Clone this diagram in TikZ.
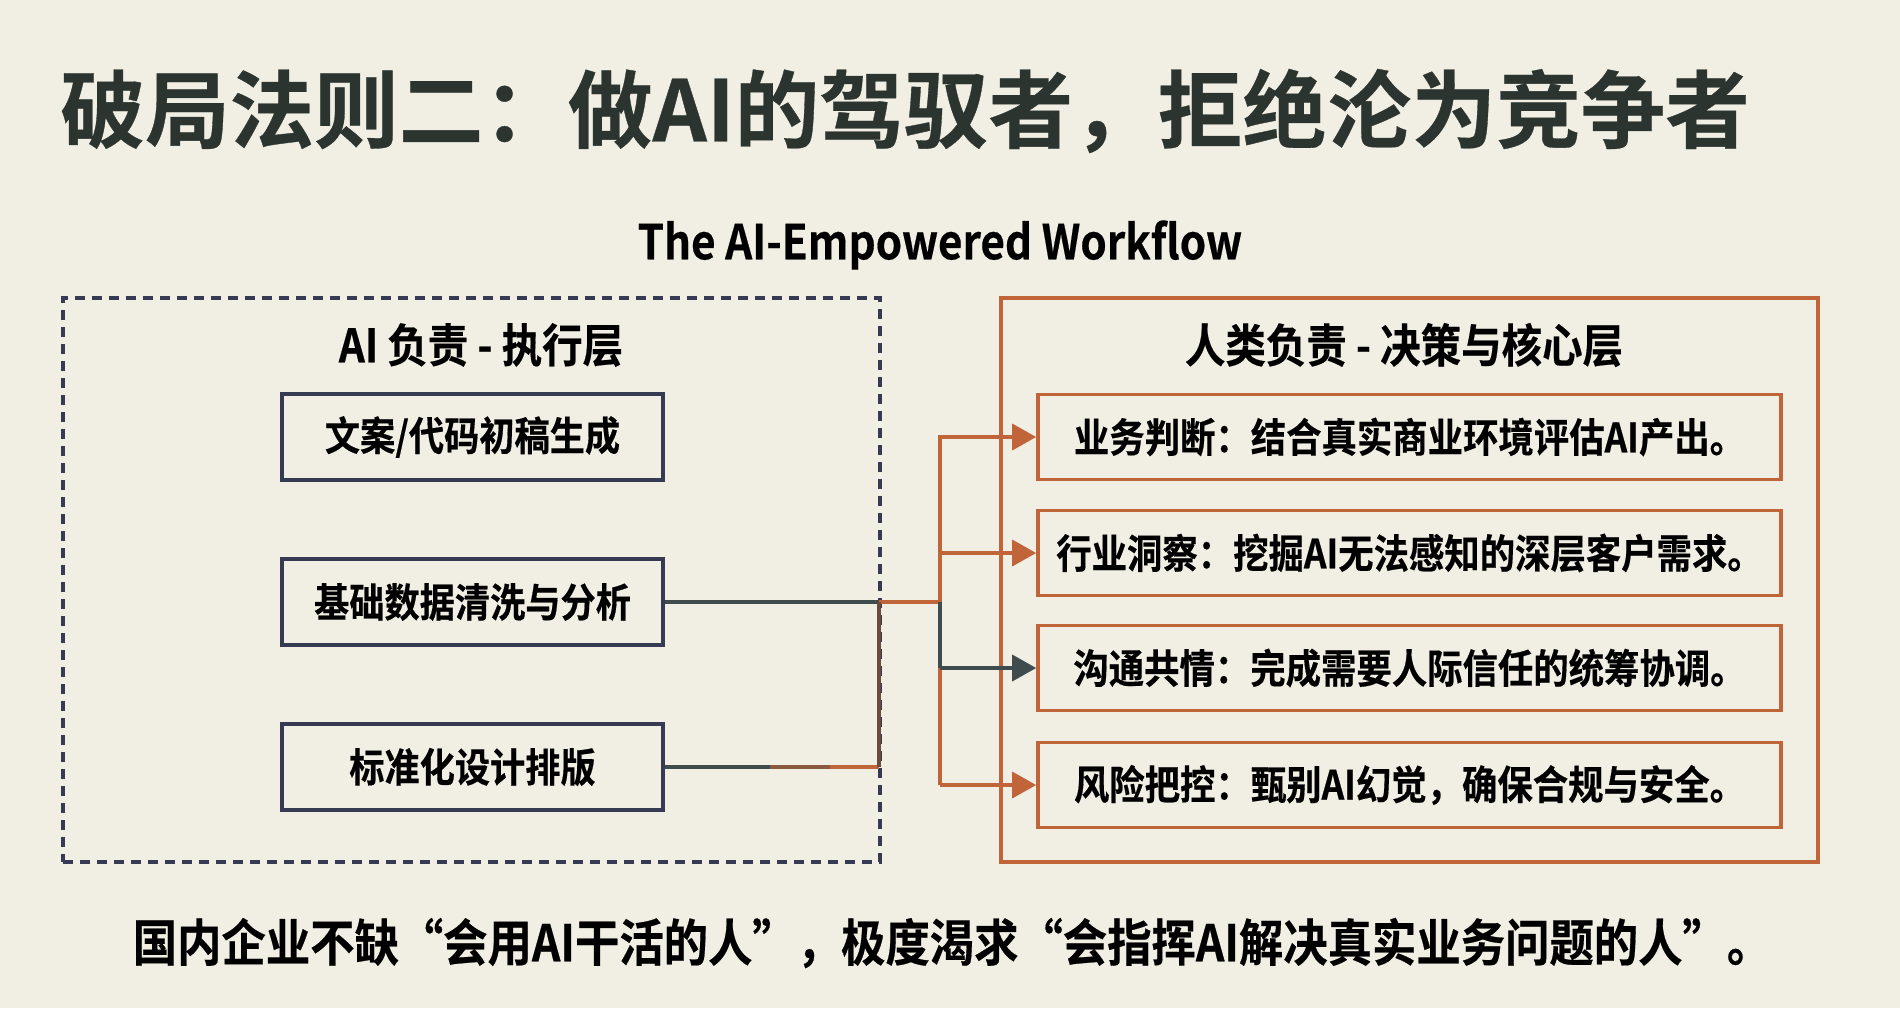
\documentclass[tikz,border=0pt]{standalone}
\usepackage{fontspec}
\usetikzlibrary{arrows.meta}
\newfontfamily\hb{Noto Sans CJK SC Bold}[FakeBold=0.4]
\newfontfamily\hbc{Noto Sans CJK SC Bold}[FakeStretch=0.88,FakeBold=0.4]
\definecolor{bg}{HTML}{F1EFE4}
\definecolor{ttl}{HTML}{2C3430}
\definecolor{navy}{HTML}{363A52}
\definecolor{rust}{HTML}{C0653A}
\definecolor{slate}{HTML}{3E4C4D}
\definecolor{brn}{HTML}{6A4A3A}
\definecolor{midc}{HTML}{8A5A3E}
\begin{document}
\begin{tikzpicture}[x=0.5pt,y=-0.5pt,
  aibox/.style={draw=navy, line width=1.8pt, minimum width=190.5pt, minimum height=43pt, inner sep=0pt,
    font=\hbc\fontsize{20pt}{24pt}\selectfont, text=black},
  hubox/.style={draw=rust, line width=1.8pt, minimum width=371.5pt, minimum height=42.5pt, inner sep=0pt,
    font=\hbc\fontsize{20.1pt}{24pt}\selectfont, text=black},
  hdr/.style={font=\hbc\fontsize{23pt}{27pt}\selectfont, text=black, inner sep=0pt},
  con/.style={line width=1.8pt},
  arr/.style={con, -{Triangle[length=12pt,width=13pt]}}
]
\useasboundingbox (0,0) rectangle (1900,1008);
\fill[bg] (0,0) rectangle (1900,1008);

% titles
\node[anchor=west, inner sep=0pt, text=ttl, font=\hb\fontsize{42.3pt}{50pt}\selectfont] (title) at (60,111) {破局法则二：做AI的驾驭者，拒绝沦为竞争者};
\node[inner sep=0pt, text=black, font=\hbc\fontsize{24pt}{28pt}\selectfont] (sub) at (940,245) {The AI-Empowered Workflow};

% containers
\node[draw=navy, dashed, dash pattern=on 5pt off 3.5pt, line width=1.7pt, minimum width=408.5pt, minimum height=282pt, inner sep=0pt] (left) at (471.5,580) {};
\node[draw=rust, line width=1.7pt, minimum width=408.5pt, minimum height=282pt, inner sep=0pt] (right) at (1409.5,580) {};

\node[hdr] (lh) at (481,345) {AI 负责 - 执行层};
\node[hdr] (rh) at (1404,345) {人类负责 - 决策与核心层};

% AI boxes
\node[aibox] (a1) at (472.5,437) {文案/代码初稿生成};
\node[aibox] (a2) at (472.5,602) {基础数据清洗与分析};
\node[aibox] (a3) at (472.5,767) {标准化设计排版};

% human boxes
\node[hubox] (h1) at (1409.5,437) {业务判断：结合真实商业环境评估AI产出。};
\node[hubox] (h2) at (1409.5,553) {行业洞察：挖掘AI无法感知的深层客户需求。};
\node[hubox] (h3) at (1409.5,668) {沟通共情：完成需要人际信任的统筹协调。};
\node[hubox] (h4) at (1409.5,785) {风险把控：甄别AI幻觉，确保合规与安全。};

% connectors
\coordinate (j1) at (879,602);
\coordinate (j2) at (940,602);
\coordinate (g1) at (770,767);
\coordinate (g2) at (830,767);
\draw[con, slate] (a2.east) -- (j1);
\draw[con, rust] (j1) -- (j2);
\draw[con, slate] (a3.east) -- (g1);
\draw[con, midc] (g1) -- (g2);
\draw[con, rust] (g2) -- (a3.east -| j1);
\draw[con, brn] (a3.east -| j1) -- (j1);
\draw[con, rust, line cap=rect] (h1.west -| j2) -- (j2);
\draw[con, slate] (j2) -- (h3.west -| j2);
\draw[con, rust] (h3.west -| j2) -- (h4.west -| j2);
\draw[arr, rust] (h1.west -| j2) -- (h1.west);
\draw[arr, rust] (h2.west -| j2) -- (h2.west);
\draw[arr, slate] (h3.west -| j2) -- (h3.west);
\draw[arr, rust] (h4.west -| j2) -- (h4.west);

% bottom
\node[inner sep=0pt, text=black, font=\hbc\fontsize{25.2pt}{30pt}\selectfont] (foot) at (952,943) {国内企业不缺“会用AI干活的人”，极度渴求“会指挥AI解决真实业务问题的人”。};
\end{tikzpicture}
\end{document}
